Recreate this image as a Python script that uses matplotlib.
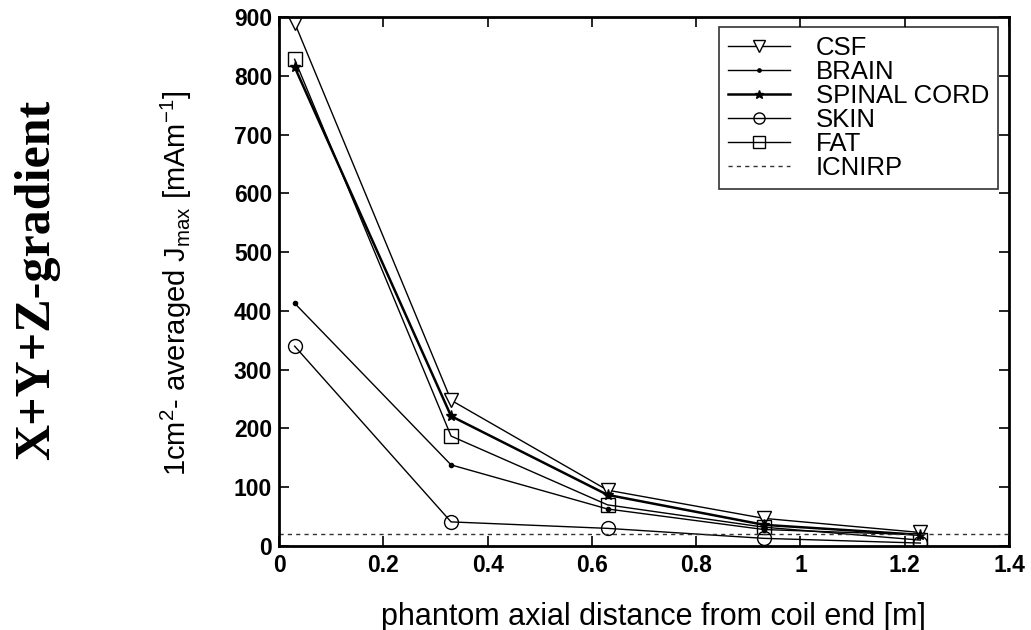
import matplotlib
matplotlib.use("Agg")
import matplotlib.pyplot as plt

# phantom axial distance from coil end [m]
DIST = [0.03, 0.33, 0.63, 0.93, 1.23]

# 1 cm^2 averaged Jmax [mA/m^2] per tissue
CSF = [890, 248, 95, 47, 23]
BRAIN = [413, 138, 63, 28, 19]
SPINAL_CORD = [815, 221, 87, 36, 19]
SKIN = [340, 41, 30, 13, 5]
FAT = [828, 187, 70, 32, 10]

ICNIRP = 21

X_TICKS = [0, 0.2, 0.4, 0.6, 0.8, 1, 1.2, 1.4]
X_TICKLABELS = ["0", "0.2", "0.4", "0.6", "0.8", "1", "1.2", "1.4"]
Y_TICKS = [0, 100, 200, 300, 400, 500, 600, 700, 800, 900]

W, H = 1031, 630

plt.rcParams['font.family'] = ['Liberation Sans', 'DejaVu Sans']
plt.rcParams['mathtext.fontset'] = 'custom'
plt.rcParams['mathtext.rm'] = 'Liberation Sans'
plt.rcParams['mathtext.it'] = 'Liberation Sans'

fig = plt.figure(figsize=(W / 100, H / 100), dpi=100)
# axes box in pixels: left 279, right 1009, top 17, bottom 546
ax = fig.add_axes([279 / W, 1 - 546 / H, 730 / W, 529 / H])

lw = 1.0
ax.plot(DIST, CSF, color='black', lw=lw, marker='v', ms=10,
        mfc='white', mec='black', mew=1, label='CSF')
ax.plot(DIST, BRAIN, color='black', lw=lw, marker='.', ms=6,
        label='BRAIN')
ax.plot(DIST, SPINAL_CORD, color='black', lw=1.8, marker='*', ms=8,
        label='SPINAL CORD')
ax.plot(DIST, SKIN, color='black', lw=lw, marker='o', ms=10,
        mfc='none', mec='black', mew=1, label='SKIN')
ax.plot(DIST, FAT, color='black', lw=lw, marker='s', ms=10,
        mfc='none', mec='black', mew=1, label='FAT')
ax.axhline(ICNIRP, color='#333333', lw=1, ls=(0, (3, 3)), label='ICNIRP')

ax.set_xlim(0, 1.4)
ax.set_ylim(0, 900)
ax.set_xticks(X_TICKS)
ax.set_xticklabels(X_TICKLABELS)
ax.set_yticks(Y_TICKS)
ax.tick_params(direction='in', top=True, right=True, length=7, width=1.2,
               labelsize=16.5)
ax.tick_params(axis='x', pad=6)
ax.tick_params(axis='y', pad=5)
for lab in ax.get_xticklabels() + ax.get_yticklabels():
    lab.set_fontweight('bold')
for sp in ax.spines.values():
    sp.set_linewidth(2)

fig.text(653 / W, 5 / H, 'phantom axial distance from coil end [m]',
         ha='center', va='baseline', fontsize=22)
fig.text(176 / W, 1 - 283 / H,
         r'1cm$^{2}$- averaged J$_{\mathrm{max}}$ [mAm$^{-1}$]',
         rotation=90, ha='center', va='center', fontsize=21)

leg = ax.legend(loc='upper right', fontsize=18.5, frameon=True, fancybox=False,
                edgecolor='black', handlelength=2.4, handletextpad=1.0,
                borderpad=0.35, labelspacing=0.0, borderaxespad=0,
                bbox_to_anchor=(998 / W, 1 - 27 / H),
                bbox_transform=fig.transFigure, markerscale=0.8)
leg.get_frame().set_linewidth(1.2)

fig.text(37 / W, 1 - 280 / H, 'X+Y+Z-gradient', rotation=90,
         ha='center', va='center', fontsize=36, fontweight='bold',
         family='Liberation Serif')

fig.savefig('out.png', dpi=100)
